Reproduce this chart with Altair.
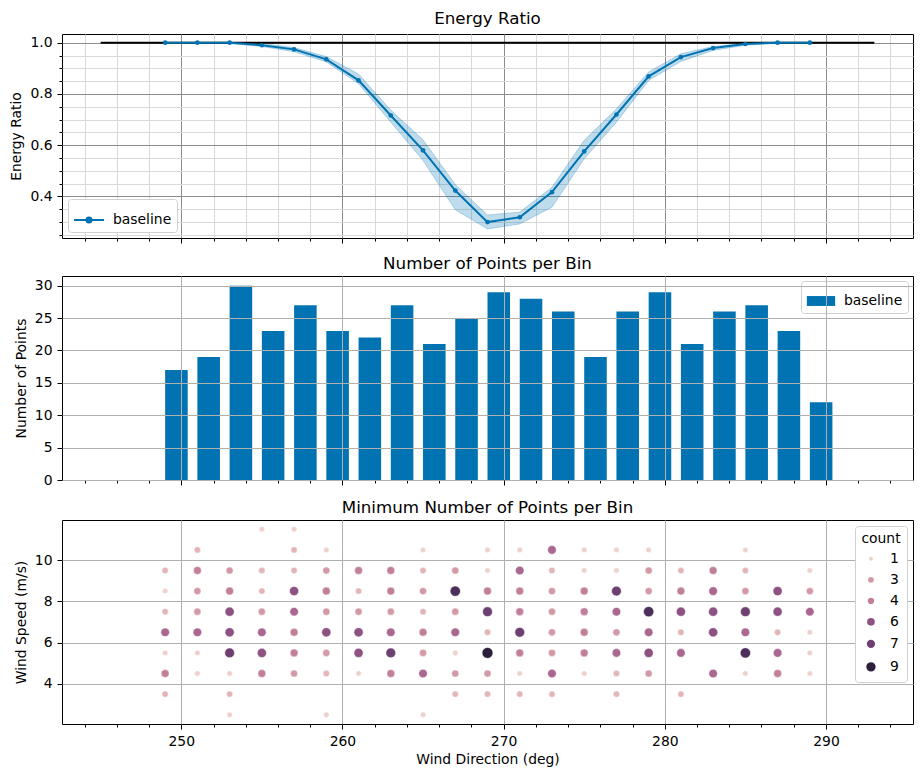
import math
import altair as alt
import pandas as pd

# ---------------- data ----------------
wind_dir = [249, 251, 253, 255, 257, 259, 261, 263, 265, 267, 269,
            271, 273, 275, 277, 279, 281, 283, 285, 287, 289]
energy_ratio = [1.0, 1.0, 1.0, 0.990, 0.974, 0.935, 0.853, 0.716, 0.580, 0.423, 0.300,
                0.319, 0.417, 0.576, 0.720, 0.869, 0.944, 0.979, 0.995, 1.0, 1.0]
er_lower = [0.998, 0.998, 0.997, 0.985, 0.965, 0.925, 0.840, 0.690, 0.540, 0.348, 0.273,
            0.293, 0.358, 0.547, 0.690, 0.853, 0.927, 0.970, 0.990, 0.998, 0.998]
er_upper = [1.0, 1.0, 1.0, 0.997, 0.981, 0.946, 0.878, 0.737, 0.621, 0.447, 0.328,
            0.339, 0.436, 0.619, 0.742, 0.886, 0.957, 0.985, 0.998, 1.0, 1.0]
n_points = [17, 19, 30, 23, 27, 23, 22, 27, 21, 25, 29,
            28, 26, 19, 26, 29, 21, 26, 27, 23, 12]
ref_x = [245, 293]
ref_y = [1.0, 1.0]
wind_speed = [2.5, 3.5, 4.5, 5.5, 6.5, 7.5, 8.5, 9.5, 10.5, 11.5]
# rows: wind_speed, columns: wind_dir ; 0 = empty cell
count_grid = [
    [0, 0, 1, 0, 0, 1, 0, 0, 1, 0, 0, 0, 0, 0, 0, 0, 0, 0, 0, 0, 0],
    [2, 0, 2, 0, 0, 0, 0, 0, 0, 2, 2, 2, 2, 0, 2, 0, 2, 0, 0, 0, 0],
    [4, 1, 1, 4, 3, 2, 1, 4, 5, 3, 3, 1, 5, 1, 2, 3, 0, 5, 1, 4, 1],
    [1, 1, 7, 6, 4, 3, 6, 7, 3, 1, 9, 4, 3, 4, 5, 6, 5, 0, 8, 5, 1],
    [5, 5, 6, 5, 4, 6, 6, 5, 4, 5, 2, 7, 3, 4, 3, 5, 2, 6, 5, 2, 1],
    [2, 3, 6, 3, 5, 3, 3, 3, 2, 3, 7, 4, 3, 4, 5, 8, 6, 6, 7, 6, 5],
    [1, 3, 4, 2, 6, 4, 2, 4, 3, 8, 4, 4, 3, 4, 7, 3, 4, 5, 3, 6, 3],
    [2, 4, 3, 2, 2, 3, 4, 4, 2, 3, 1, 5, 2, 1, 1, 3, 2, 4, 2, 0, 1],
    [0, 2, 0, 0, 2, 1, 0, 0, 1, 0, 1, 1, 5, 1, 1, 1, 0, 0, 1, 0, 0],
    [0, 0, 0, 1, 1, 0, 0, 0, 0, 0, 0, 0, 0, 0, 0, 0, 0, 0, 0, 0, 0],
]
legend_counts = [1, 3, 4, 6, 7, 9]
series_name = "baseline"

# ---------------- styles ----------------
BLUE = "#0173b2"
FONT = "DejaVu Sans"
FS = 13.9
W, H = 851, 204
BAR_W = 1.4
xs = alt.Scale(domain=[242.6, 295.4], nice=False, zero=False)
x_major = [250, 260, 270, 280, 290]
x_minor = [v for v in range(244, 296, 2) if v % 10]


def cubehelix(x, start=0.0, rot=0.4, gamma=1.0, hue=0.8):
    xg = x ** gamma
    a = hue * xg * (1 - xg) / 2
    phi = 2 * math.pi * (start / 3 + rot * x)
    r = xg + a * (-0.14861 * math.cos(phi) + 1.78277 * math.sin(phi))
    g = xg + a * (-0.29227 * math.cos(phi) - 0.90649 * math.sin(phi))
    b = xg + a * (1.97294 * math.cos(phi))
    c = [max(0, min(1, v)) for v in (r, g, b)]
    return "#%02x%02x%02x" % tuple(int(round(v * 255)) for v in c)


cnt_domain = list(range(1, 10))
cnt_colors = [cubehelix(0.85 - 0.7 * (c - 1) / 8) for c in cnt_domain]
SIZE_MIN, SIZE_MAX = 30, 118
cnt_sizes = [SIZE_MIN + (SIZE_MAX - SIZE_MIN) * (c - 1) / 8 for c in cnt_domain]


def axis(values, orient, grid_color=None, tick=5, labels=False, title=None,
         fmt=None, zindex=0, title_pad=6):
    kw = dict(values=values, orient=orient, tickSize=tick, tickColor="black",
              tickWidth=1, labels=labels, domain=False, zindex=zindex,
              labelFont=FONT, labelFontSize=FS, labelColor="black",
              labelPadding=5, title=title, titleFont=FONT, titleFontSize=FS,
              titleFontWeight="normal", titleColor="black", titlePadding=title_pad)
    if grid_color:
        kw.update(grid=True, gridColor=grid_color, gridWidth=1, gridOpacity=1)
    else:
        kw.update(grid=False)
    if fmt:
        kw.update(format=fmt)
    return alt.Axis(**kw)


def ptitle(text, offset=3):
    return alt.TitleParams(text, font=FONT, fontSize=16.7, fontWeight="normal",
                           color="black", offset=offset)


# ---------------- panel 1: energy ratio ----------------
df_er = pd.DataFrame({"wd": wind_dir, "er": energy_ratio, "lo": er_lower,
                      "hi": er_upper, "series": series_name})
df_ref = pd.DataFrame({"x1": [ref_x[0]], "x2": [ref_x[1]], "y": [ref_y[0]]})
ys1 = alt.Scale(domain=[0.238, 1.034], nice=False, zero=False)
y1_major = [0.4, 0.6, 0.8, 1.0]
y1_minor = [0.25, 0.3, 0.35, 0.45, 0.5, 0.55, 0.65, 0.7, 0.75, 0.85, 0.9, 0.95]

minor1 = alt.Chart(df_er).mark_point(opacity=0).encode(
    x=alt.X("wd:Q", scale=xs, axis=axis(x_minor, "bottom", "#d9d9d9", tick=3)),
    y=alt.Y("er:Q", scale=ys1, axis=axis(y1_minor, "left", "#d9d9d9", tick=3)),
)
band = alt.Chart(df_er).mark_area(color=BLUE, fillOpacity=0.25, stroke=BLUE,
                                  strokeOpacity=0.25, strokeWidth=1).encode(
    x=alt.X("wd:Q", scale=xs, axis=axis(x_major, "bottom", "#8c8c8c")),
    y=alt.Y("lo:Q", scale=ys1, axis=axis(y1_major, "left", "#8c8c8c", labels=True,
                                         title="Energy Ratio", fmt=".1f")),
    y2="hi:Q",
)
ref = alt.Chart(df_ref).mark_rule(color="black", strokeWidth=2).encode(
    x=alt.X("x1:Q", scale=xs, axis=None), x2="x2:Q",
    y=alt.Y("y:Q", scale=ys1, axis=None),
)
line = alt.Chart(df_er).mark_line(color=BLUE, strokeWidth=2).encode(
    x=alt.X("wd:Q", scale=xs, axis=None), y=alt.Y("er:Q", scale=ys1, axis=None),
)
pts = alt.Chart(df_er).mark_circle(size=22, opacity=1).encode(
    x=alt.X("wd:Q", scale=xs, axis=None), y=alt.Y("er:Q", scale=ys1, axis=None),
    color=alt.Color("series:N", scale=alt.Scale(domain=[series_name], range=[BLUE]),
                    legend=alt.Legend(title=None, orient="bottom-left", offset=6,
                                      symbolType="M-1,0H1M0.17,0A0.17,0.17,0,1,1,-0.17,0A0.17,0.17,0,1,1,0.17,0",
                                      symbolSize=900, symbolStrokeColor=BLUE,
                                      symbolStrokeWidth=2, symbolFillColor=BLUE,
                                      labelFont=FONT, labelFontSize=FS, labelColor="black",
                                      fillColor="white", strokeColor="#d0d0d0",
                                      cornerRadius=3, padding=5, labelOffset=8)),
)
panel1 = alt.layer(minor1, band, ref, line, pts).resolve_axis(
    x="independent", y="independent").properties(
    width=W, height=H, title=ptitle("Energy Ratio", offset=6))

# ---------------- panel 2: number of points ----------------
df_bar = pd.DataFrame({"wd": wind_dir, "n": n_points, "series": series_name})
df_bar["wd_r"] = df_bar["wd"] + BAR_W
df_bar["base"] = 0
ys2 = alt.Scale(domain=[0, 31.5], nice=False)
minor2 = alt.Chart(df_bar).mark_point(opacity=0).encode(
    x=alt.X("wd:Q", scale=xs, axis=axis(x_minor, "bottom", None, tick=3)),
)
bars = alt.Chart(df_bar).mark_rect().encode(
    x=alt.X("wd:Q", scale=xs, axis=axis(x_major, "bottom", "#b0b0b0", zindex=1)),
    x2="wd_r:Q",
    y=alt.Y("n:Q", scale=ys2, axis=axis(list(range(0, 31, 5)), "left", "#b0b0b0",
                                         labels=True, title="Number of Points", zindex=1)),
    y2="base:Q",
    color=alt.Color("series:N", scale=alt.Scale(domain=[series_name], range=[BLUE]),
                    legend=alt.Legend(title=None, orient="top-right", offset=5,
                                      symbolType="M-1,-0.35H1V0.35H-1Z", symbolSize=800,
                                      labelFont=FONT, labelFontSize=FS, labelColor="black",
                                      fillColor="white", strokeColor="#d0d0d0",
                                      cornerRadius=3, padding=5, labelOffset=8)),
)
panel2 = alt.layer(minor2, bars).resolve_axis(x="independent").properties(
    width=W, height=H, title=ptitle("Number of Points per Bin"))

# ---------------- panel 3: min number of points ----------------
rows = []
for i, ws in enumerate(wind_speed):
    for j, wd in enumerate(wind_dir):
        c = count_grid[i][j]
        if c > 0:
            rows.append({"wd": wd, "ws": ws, "count": c})
df_sc = pd.DataFrame(rows)
ys3 = alt.Scale(domain=[2.05, 11.95], nice=False, zero=False)
leg3 = dict(title="count", values=legend_counts, orient="top-right", offset=6,
            type="symbol",
            labelFont=FONT, labelFontSize=FS, labelColor="black",
            titleFont=FONT, titleFontSize=FS, titleFontWeight="normal",
            titleColor="black", titleAnchor="middle", titlePadding=6,
            fillColor="white", strokeColor="#d0d0d0", cornerRadius=3, padding=6,
            rowPadding=6, labelOffset=12, symbolType="circle", format="d")
minor3 = alt.Chart(df_sc).mark_point(opacity=0).encode(
    x=alt.X("wd:Q", scale=xs, axis=axis(x_minor, "bottom", None, tick=3)),
)
scatter = alt.Chart(df_sc).mark_circle(opacity=1, stroke="white", strokeWidth=0.5).encode(
    x=alt.X("wd:Q", scale=xs, axis=axis(x_major, "bottom", "#b0b0b0", labels=True,
                                         title="Wind Direction (deg)", title_pad=5)),
    y=alt.Y("ws:Q", scale=ys3, axis=axis([4, 6, 8, 10], "left", "#b0b0b0", labels=True,
                                          title="Wind Speed (m/s)")),
    color=alt.Color("count:Q", scale=alt.Scale(domain=cnt_domain, range=cnt_colors),
                    legend=alt.Legend(**leg3)),
    size=alt.Size("count:Q", scale=alt.Scale(domain=cnt_domain, range=cnt_sizes),
                  legend=alt.Legend(**leg3)),
)
panel3 = alt.layer(minor3, scatter).resolve_axis(x="independent").properties(
    width=W, height=H, title=ptitle("Minimum Number of Points per Bin"))

chart = alt.vconcat(panel1, panel2, panel3, spacing=11).resolve_scale(
    color="independent", size="independent"
).resolve_legend(
    color="independent", size="independent"
).properties(
    padding={"left": 1, "top": 2, "right": 0, "bottom": 0}
).configure_view(stroke="black", strokeWidth=1)

chart.save("out.html", embed_options={"renderer": "svg", "actions": False})
